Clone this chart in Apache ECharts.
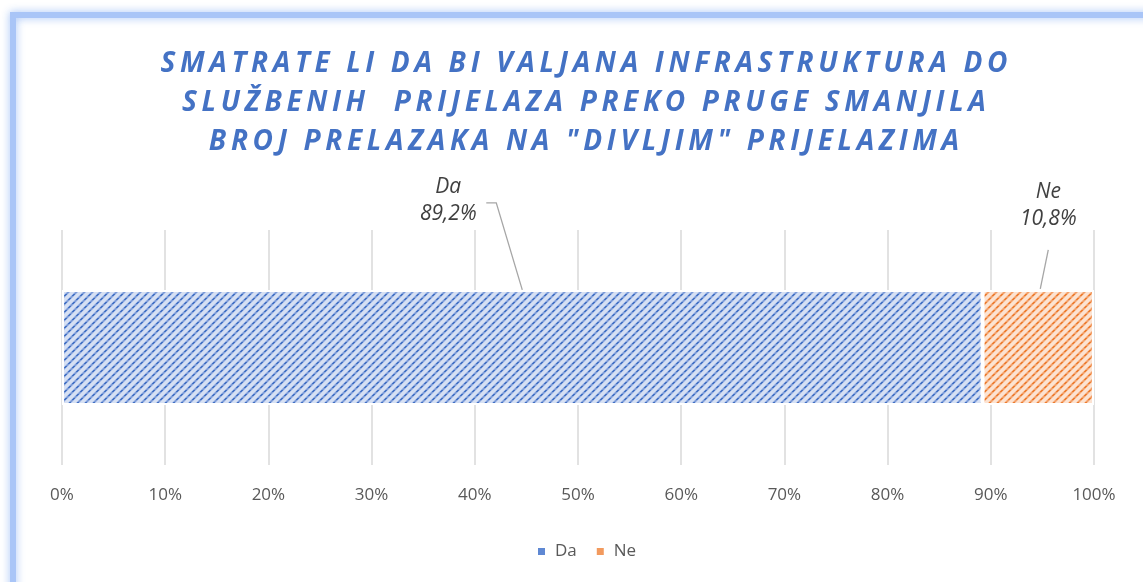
<!DOCTYPE html>
<html>
<head>
<meta charset="utf-8">
<script src="https://cdn.jsdelivr.net/npm/echarts@6/dist/echarts.min.js"></script>
<style>
  html, body { margin: 0; padding: 0; background: #ffffff; }
  #chart { width: 1143px; height: 582px; }
</style>
</head>
<body>
<div id="chart"></div>
<script>
// ---- data ----
const titleLines = [
  'SMATRATE LI DA BI VALJANA INFRASTRUKTURA DO',
  'SLUŽBENIH  PRIJELAZA PREKO PRUGE SMANJILA',
  'BROJ PRELAZAKA NA "DIVLJIM" PRIJELAZIMA'
];
const categories = ['Odgovor'];
const seriesNames = ['Da', 'Ne'];
const daValues = [89.2];
const neValues = [10.8];
const tickLabels = ['0%', '10%', '20%', '30%', '40%', '50%', '60%', '70%', '80%', '90%', '100%'];

// ---- helpers ----
// widen the title's tracking by putting a narrow space between characters
function tracked(s) {
  return Array.from(s).join('\u2009');
}

// diagonal hatch tile (upward stripes, dotted look)
function hatch(bg, dark, mid, light) {
  const c = document.createElement('canvas');
  const n = 8;
  c.width = n; c.height = n;
  const g = c.getContext('2d');
  g.fillStyle = bg;
  g.fillRect(0, 0, n, n);
  for (let i = 0; i < n; i++) {
    const y = n - 1 - i;
    g.fillStyle = light;
    g.fillRect((i + 2) % n, y, 1, 1);
    g.fillRect((i + n - 1) % n, y, 1, 1);
    g.fillStyle = (Math.floor(i / 2) % 2 === 0) ? dark : mid;
    g.fillRect(i, y, 1, 1);
    g.fillRect((i + 1) % n, y, 1, 1);
  }
  return { image: c, repeat: 'repeat' };
}

const blueFill = hatch('#d6e0f3', '#4472c4', '#7d9cd8', '#aec2ea');
const orangeFill = hatch('#fce3d2', '#ed7d31', '#f3a06a', '#f8c4a0');

const pctLabel = p => p.seriesName + '\n' + String(p.value).replace('.', ',') + '%';

const labelFont = {
  fontFamily: 'Open Sans',
  fontStyle: 'italic',
  fontSize: 21,
  lineHeight: 27,
  color: '#404040'
};

const chart = echarts.init(document.getElementById('chart'), null, { renderer: 'canvas' });

chart.setOption({
  backgroundColor: '#ffffff',
  animation: false,
  title: {
    text: titleLines.map(tracked).join('\n'),
    left: 584,
    top: 45,
    textAlign: 'center',
    padding: 0,
    textStyle: {
      fontFamily: 'Open Sans',
      fontWeight: 'bold',
      fontStyle: 'italic',
      fontSize: 28,
      lineHeight: 39,
      color: '#4472c4'
    }
  },
  graphic: [{
    type: 'rect',
    z: -10,
    silent: true,
    shape: { x: 13, y: 15, width: 1240, height: 680 },
    style: {
      fill: null,
      stroke: '#a9c5f7',
      lineWidth: 6,
      shadowBlur: 8,
      shadowColor: 'rgba(150,185,245,0.9)'
    }
  }],
  legend: {
    data: [
      { name: seriesNames[0], itemStyle: { color: '#5f88d3' } },
      { name: seriesNames[1], itemStyle: { color: '#f29a5e' } }
    ],
    icon: 'rect',
    left: 531,
    top: 538,
    itemWidth: 9,
    itemHeight: 9,
    itemGap: 18,
    textStyle: {
      fontFamily: 'Open Sans',
      fontSize: 17,
      color: '#595959',
      padding: [0, 0, 0, 4]
    }
  },
  grid: { left: 62, right: 49, top: 230, bottom: 117 },
  xAxis: {
    type: 'value',
    min: 0,
    max: 100,
    interval: 10,
    axisLine: { show: false },
    axisTick: { show: false },
    splitLine: { lineStyle: { color: '#d9d9d9', width: 1.5 } },
    axisLabel: {
      margin: 22,
      fontFamily: 'Open Sans',
      fontSize: 17,
      color: '#595959',
      formatter: v => tickLabels[Math.round(v / 10)]
    }
  },
  yAxis: {
    type: 'category',
    data: categories,
    axisLine: { show: false },
    axisTick: { show: false },
    axisLabel: { show: false },
    splitLine: { show: false }
  },
  series: [
    {
      name: seriesNames[0],
      type: 'bar',
      stack: 'total',
      barWidth: '49%',
      data: daValues,
      itemStyle: { color: blueFill, borderColor: '#ffffff', borderWidth: 2 },
      label: Object.assign({
        show: true,
        position: 'top',
        distance: 62,
        offset: [-74, 0],
        formatter: pctLabel
      }, labelFont)
    },
    {
      name: seriesNames[1],
      type: 'bar',
      stack: 'total',
      barWidth: '49%',
      data: neValues,
      itemStyle: { color: orangeFill, borderColor: '#ffffff', borderWidth: 2 },
      label: Object.assign({
        show: true,
        position: 'top',
        distance: 57,
        offset: [10, 0],
        formatter: pctLabel
      }, labelFont)
    },
    {
      // leader lines from each segment's top centre to its label
      type: 'custom',
      silent: true,
      z: 5,
      data: [
        [daValues[0] / 2, 0],
        [daValues[0] + neValues[0] / 2, 0]
      ],
      renderItem: function (params, api) {
        const p = api.coord([api.value(0), api.value(1)]);
        const half = api.size([0, 1])[1] * 0.49 / 2;
        const top = p[1] - half;
        const pts = params.dataIndex === 0
          ? [[p[0] - 36, top - 87], [p[0] - 26, top - 87], [p[0], top]]
          : [[p[0] + 10, top - 40], [p[0] + 2, top - 1]];
        return {
          type: 'polyline',
          shape: { points: pts },
          style: { stroke: '#a6a6a6', lineWidth: 1.3, fill: null }
        };
      }
    }
  ]
});
</script>
</body>
</html>
